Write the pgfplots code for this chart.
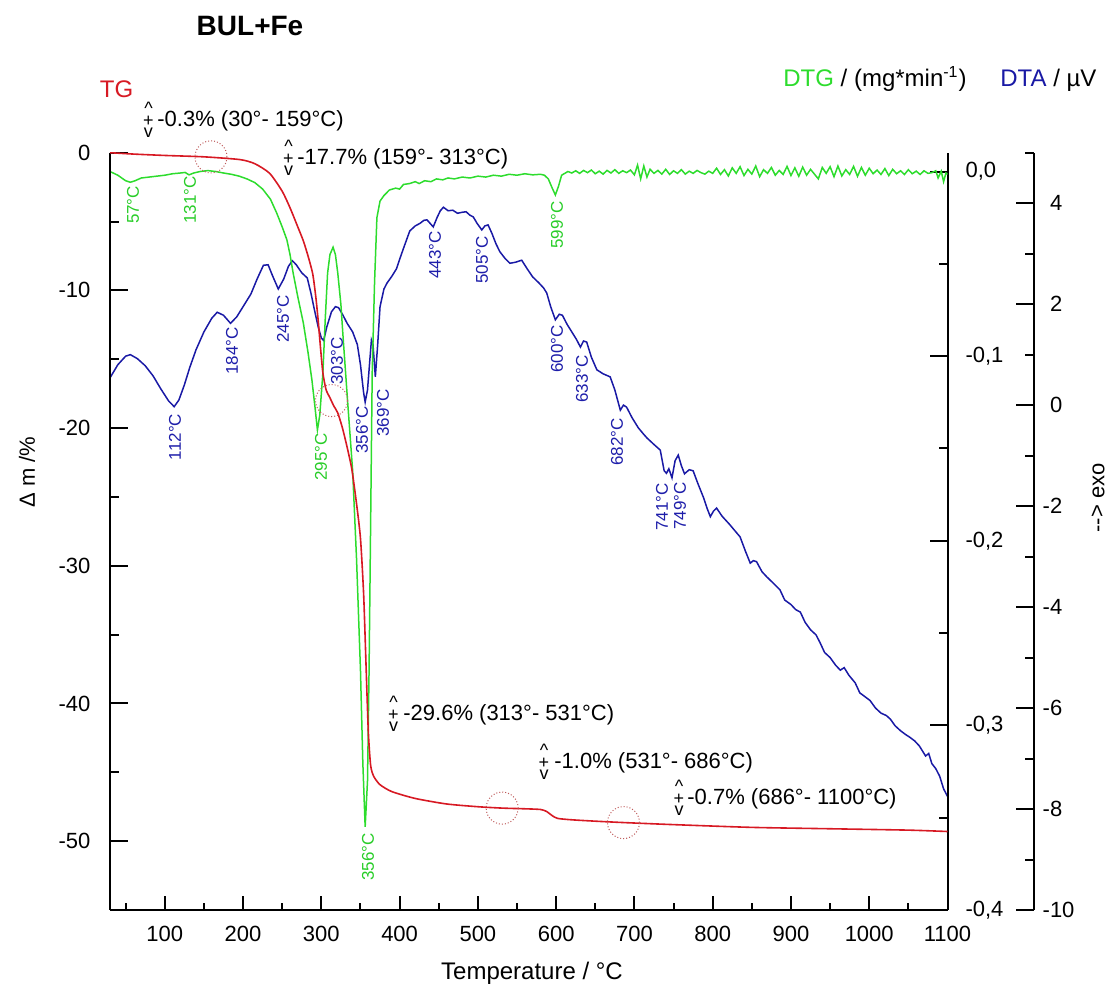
\documentclass[border=0pt]{standalone}
\usepackage{fontspec}
\setmainfont{Liberation Sans}
\usepackage{pgfplots}
\usepackage{pgfplotstable}
\pgfplotsset{compat=1.18}

\definecolor{tgred}{RGB}{215,25,35}
\definecolor{dtggreen}{RGB}{45,220,45}
\definecolor{dtablue}{RGB}{25,25,165}
\definecolor{ringc}{RGB}{190,90,90}
\definecolor{lblgreen}{RGB}{40,205,40}
\definecolor{lblblue}{RGB}{30,30,170}

% TG, mass change in %
\pgfplotstableread{
T m
30 0
60 -0.1
100 -0.2
150 -0.3
196 -0.5
215 -0.8
234 -1.5
250 -2.8
260 -4.0
270 -5.4
277 -6.4
283 -7.5
289 -8.8
293 -10.5
296 -12.2
299 -14.2
302 -16.0
306 -17.2
311 -17.8
316 -18.4
321 -18.9
327 -20.0
333 -21.4
339 -23.0
345 -25.5
350 -28.0
354 -32.0
357 -37.0
360 -42.0
363 -44.5
367 -45.3
375 -45.9
390 -46.4
420 -46.9
460 -47.3
500 -47.5
531 -47.6
560 -47.65
580 -47.7
588 -47.85
595 -48.15
602 -48.35
620 -48.45
650 -48.55
686 -48.65
750 -48.8
850 -49.0
950 -49.1
1050 -49.2
1100 -49.3
}\tgdata

% DTG, mg/min
\pgfplotstableread{
T d
30 0.000
40 -0.002
50 -0.005
56 -0.0058
62 -0.005
70 -0.0035
80 -0.003
90 -0.0025
100 -0.002
110 -0.0012
120 -0.0008
126 -0.0005
131 -0.0018
137 -0.0008
145 0.0000
155 0.0005
165 0.0000
175 -0.0008
185 -0.0015
195 -0.0025
205 -0.0040
215 -0.0060
225 -0.0095
235 -0.0150
243 -0.0225
250 -0.030
256 -0.037
260 -0.045
264 -0.055
270 -0.068
277 -0.082
283 -0.098
288 -0.113
292 -0.128
295 -0.140
298 -0.132
302 -0.109
305 -0.080
308 -0.055
311 -0.045
315 -0.041
318 -0.045
321 -0.055
325 -0.072
328 -0.091
334 -0.127
340 -0.162
345 -0.210
350 -0.270
353 -0.320
356 -0.355
359 -0.330
361 -0.270
363 -0.190
365 -0.109
368 -0.060
371 -0.025
375 -0.016
380 -0.013
387 -0.010
395 -0.009
400 -0.0095
405 -0.007
413 -0.0065
420 -0.0055
425 -0.0065
432 -0.005
440 -0.0055
447 -0.004
455 -0.0045
462 -0.0035
470 -0.004
480 -0.003
490 -0.0035
500 -0.0025
510 -0.003
520 -0.002
530 -0.0025
540 -0.0015
550 -0.002
560 -0.0012
570 -0.0018
580 -0.0015
585 -0.002
590 -0.004
595 -0.009
599 -0.0127
603 -0.008
607 -0.002
615 0.0000
620 -0.0008
625 0.0004
630 -0.0010
635 0.0006
640 -0.0006
645 0.0008
650 -0.0012
655 0.0002
660 -0.0014
665 0.0006
670 -0.0008
675 0.0010
680 -0.0010
685 0.0004
690 -0.0006
695 0.0008
700 -0.0018
704 0.0035
708 -0.0040
712 0.0030
716 -0.0030
720 0.0012
725 -0.0010
730 0.0006
735 -0.0014
740 0.0012
745 -0.0016
750 0.0004
755 -0.0010
760 0.0010
765 -0.0014
770 0.0002
775 -0.0010
780 0.0006
785 -0.0006
790 -0.0014
795 0.0002
800 -0.0010
805 0.0018
810 -0.0016
815 0.0010
820 -0.0024
825 0.0020
830 -0.0010
835 0.0026
840 -0.0022
845 0.0012
850 -0.0014
855 0.0030
860 -0.0028
865 0.0010
870 -0.0010
875 0.0022
880 -0.0020
885 0.0006
890 -0.0016
895 0.0028
900 -0.0022
905 0.0020
910 -0.0026
915 0.0024
920 -0.0020
925 0.0012
930 -0.0014
935 -0.0040
940 0.0022
945 -0.0010
950 0.0026
955 -0.0028
960 0.0030
965 -0.0024
970 0.0010
975 -0.0016
980 0.0028
985 -0.0026
990 0.0022
995 -0.0020
1000 0.0018
1005 -0.0012
1010 0.0008
1015 -0.0016
1020 0.0016
1025 -0.0022
1030 0.0012
1035 -0.0012
1040 0.0004
1045 -0.0016
1050 0.0010
1055 -0.0012
1060 0.0002
1065 -0.0016
1070 0.0004
1075 -0.0010
1080 -0.0006
1085 0.0004
1088 -0.0035
1092 0.0002
1095 -0.0055
1098 -0.0008
1100 -0.0015
}\dtgdata

% DTA, microvolt
\pgfplotstableread{
T u
30 0.54
40 0.80
50 0.97
56 1.00
65 0.92
75 0.78
85 0.58
95 0.32
105 0.08
112 -0.03
118 0.10
125 0.40
132 0.75
140 1.10
150 1.45
160 1.72
167 1.84
175 1.78
184 1.62
192 1.75
200 1.95
210 2.20
218 2.50
226 2.77
232 2.78
238 2.55
245 2.30
252 2.50
258 2.75
263 2.86
268 2.78
275 2.62
282 2.52
287 2.20
291 1.90
296 1.55
300 1.33
303 1.28
307 1.55
313 1.85
318 1.95
322 1.93
327 1.80
333 1.62
340 1.45
346 1.20
350 0.80
354 0.25
356 0.06
359 0.30
362 0.90
364 1.29
366 1.20
369 0.56
372 1.20
375 1.95
380 2.30
384 2.42
390 2.55
396 2.70
401 2.93
406 3.15
413 3.45
420 3.55
426 3.60
431 3.66
435 3.67
439 3.60
443 3.53
448 3.72
452 3.85
456 3.92
462 3.85
468 3.86
474 3.80
480 3.82
485 3.83
490 3.76
494 3.73
499 3.60
505 3.47
509 3.55
513 3.57
518 3.40
523 3.20
528 3.04
535 2.90
541 2.81
548 2.83
556 2.87
563 2.70
570 2.54
578 2.42
584 2.32
588 2.22
593 1.95
599 1.69
604 1.80
608 1.78
614 1.60
620 1.45
626 1.30
631 1.15
635 1.27
639 1.25
645 0.95
652 0.70
660 0.62
669 0.56
675 0.30
682 -0.10
686 0.00
690 -0.04
697 -0.25
705 -0.45
712 -0.58
716 -0.65
725 -0.78
733 -0.89
738 -1.30
741 -1.35
744 -1.26
748 -1.44
752 -1.10
756 -0.99
760 -1.20
764 -1.36
770 -1.28
775 -1.30
781 -1.55
788 -1.82
793 -2.05
797 -2.21
801 -2.10
805 -2.04
812 -2.20
822 -2.37
829 -2.50
835 -2.61
842 -2.90
848 -3.13
852 -3.08
856 -3.10
863 -3.30
869 -3.40
877 -3.52
886 -3.66
892 -3.86
900 -3.95
906 -4.05
912 -4.10
918 -4.30
925 -4.45
932 -4.55
937 -4.70
943 -4.90
950 -5.00
957 -5.15
963 -5.25
968 -5.20
974 -5.35
982 -5.50
988 -5.70
995 -5.78
1001 -5.85
1008 -6.00
1015 -6.10
1022 -6.15
1027 -6.22
1033 -6.35
1040 -6.45
1046 -6.52
1052 -6.58
1058 -6.65
1064 -6.75
1068 -6.85
1072 -6.95
1076 -6.90
1080 -7.10
1085 -7.20
1090 -7.35
1095 -7.60
1100 -7.75
}\dtadata

\pgfplotsset{
  base/.style={
    scale only axis, width=418.75pt, height=378.65pt,
    xmin=30, xmax=1100,
    axis line style={line width=1pt},
    tick style={line width=1pt, black},
    tick label style={font=\fontsize{11}{13}\selectfont},
    major tick length=9pt, minor tick length=4.5pt,
  },
}

% mass-step note: stacked ^ + v sign, then the text
\newcommand{\annot}[4]{%
  \node[anchor=base west, inner sep=0pt, font=\fontsize{11}{13}\selectfont] at (#2,#3+7.9) {#4};
  \node[align=center, inner sep=0pt, font=\fontsize{9}{5.8}\selectfont] at (#1,#3+1)
    {\textasciicircum\\+\\v};
}

\begin{document}
\begin{tikzpicture}
\path[use as bounding box] (-55pt,-40pt) rectangle (500pt,455pt);

% DTA curve
\begin{axis}[base, hide x axis, hide y axis, ymin=-10, ymax=5]
  \addplot[dtablue, line width=0.75pt] table[x=T, y=u] {\dtadata};
\end{axis}

% DTG curve and its axis
\begin{axis}[base, hide x axis, axis y line*=right, ytick pos=right, yticklabel pos=right,
  ymin=-0.4, ymax=0.0102,
  ytick={-0.4,-0.3,-0.2,-0.1,0}, yticklabels={{-0,4},{-0,3},{-0,2},{-0,1},{0,0}},
  minor ytick={-0.35,-0.25,-0.15,-0.05},
  yticklabel style={xshift=5.5pt}]
  \addplot[dtggreen, line width=0.75pt] table[x=T, y=d] {\dtgdata};
\end{axis}

% TG curve and left axis
\begin{axis}[base, hide x axis, axis y line*=left, ytick pos=left, yticklabel pos=left,
  ymin=-55, ymax=0,
  ytick={-50,-40,-30,-20,-10,0}, yticklabels={-50,-40,-30,-20,-10,0},
  minor ytick={-45,-35,-25,-15,-5},
  yticklabel style={xshift=-6.3pt}]
  \addplot[tgred, line width=0.8pt, smooth, tension=0.4] table[x=T, y=m] {\tgdata};
  \addplot[only marks, mark=o, mark size=8pt,
    mark options={draw=ringc, line width=0.5pt, densely dotted}]
    coordinates {(159,-0.3) (313,-18.0) (531,-47.6) (686,-48.65)};
\end{axis}

% temperature axis
\begin{axis}[base, hide y axis, axis x line*=bottom, xtick pos=left, xticklabel pos=left,
  ymin=0, ymax=1,
  major tick length=7pt, minor tick length=3.5pt,
  xtick={100,200,...,1100},
  xticklabels={100,200,300,400,500,600,700,800,900,1000,1100},
  minor xtick={50,150,...,1050},
  xticklabel style={yshift=-4.3pt}]
\end{axis}

% DTA axis, offset to the right
\begin{axis}[base, at={(43.25pt,0)}, hide x axis, axis y line*=right, ytick pos=right,
  yticklabel pos=right,
  ymin=-10, ymax=5,
  ytick={-10,-8,-6,-4,-2,0,2,4},
  yticklabels={-10,-8,-6,-4,-2,\phantom{-}0,\phantom{-}2,\phantom{-}4},
  minor ytick={-9,-7,-5,-3,-1,1,3,5},
  yticklabel style={xshift=0.8pt}]
\end{axis}

\begin{scope}[x=0.5pt, y=-0.5pt, shift={(-55pt,455pt)}]
  \node[font=\fontsize{14}{16}\selectfont\bfseries] at (250,26) {BUL+Fe};
  \node[text=tgred, font=\fontsize{12}{14}\selectfont] at (116.5,89) {TG};
  \node[anchor=base west, font=\fontsize{12}{14}\selectfont, inner sep=0pt] at (783,86.6)
    {\textcolor{dtggreen}{DTG} / (mg*min\textsuperscript{-1})};
  \node[anchor=base west, font=\fontsize{12}{14}\selectfont, inner sep=0pt] at (1000,86.6)
    {\textcolor{dtablue}{DTA} / µV};
  \node[rotate=90, font=\fontsize{11}{13}\selectfont] at (27,472) {Δ m /\%};
  \node[rotate=90, font=\fontsize{11}{13}\selectfont] at (1098,498) {-{}-{}> exo};
  \node[font=\fontsize{12}{14}\selectfont] at (532,973) {Temperature / °C};

  \annot{148.5}{157}{119}{-0.3\% (30°- 159°C)}
  \annot{288.5}{297}{157}{-17.7\% (159°- 313°C)}
  \annot{393.5}{403}{713}{-29.6\% (313°- 531°C)}
  \annot{544}{554}{761}{-1.0\% (531°- 686°C)}
  \annot{679}{687}{797}{-0.7\% (686°- 1100°C)}

  \begin{scope}[every node/.style={rotate=90, font=\fontsize{8.5}{10}\selectfont, inner sep=0pt}]
    \node[text=lblgreen] at (133,205) {57°C};
    \node[text=lblgreen] at (190,200) {131°C};
    \node[text=lblgreen] at (321,457) {295°C};
    \node[text=lblgreen] at (368,857) {356°C};
    \node[text=lblgreen] at (557,225) {599°C};
    \node[text=lblblue] at (175,437) {112°C};
    \node[text=lblblue] at (232,351) {184°C};
    \node[text=lblblue] at (283,319) {245°C};
    \node[text=lblblue] at (337,361) {303°C};
    \node[text=lblblue] at (362,430) {356°C};
    \node[text=lblblue] at (383,413) {369°C};
    \node[text=lblblue] at (435,255) {443°C};
    \node[text=lblblue] at (482,260) {505°C};
    \node[text=lblblue] at (557,349) {600°C};
    \node[text=lblblue] at (582,379) {633°C};
    \node[text=lblblue] at (617,442) {682°C};
    \node[text=lblblue] at (662,507) {741°C};
    \node[text=lblblue] at (680,506) {749°C};
  \end{scope}
\end{scope}
\end{tikzpicture}
\end{document}
